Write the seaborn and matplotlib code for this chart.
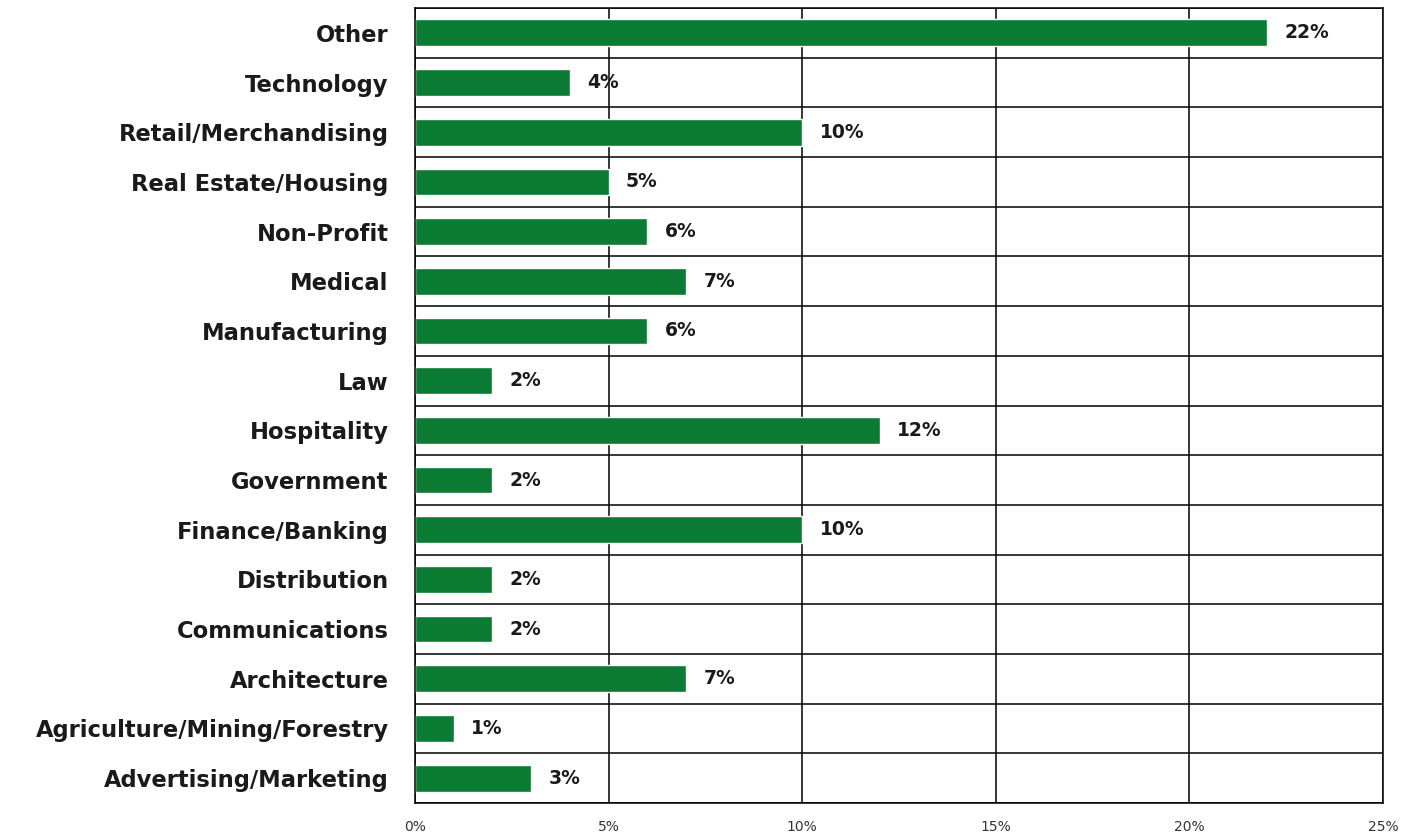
import matplotlib
matplotlib.use("Agg")
import matplotlib.pyplot as plt
from matplotlib.ticker import MultipleLocator, FixedLocator
import seaborn as sns
import pandas as pd

industries = [
    "Other", "Technology", "Retail/Merchandising", "Real Estate/Housing",
    "Non-Profit", "Medical", "Manufacturing", "Law", "Hospitality",
    "Government", "Finance/Banking", "Distribution", "Communications",
    "Architecture", "Agriculture/Mining/Forestry", "Advertising/Marketing",
]
shares = [22, 4, 10, 5, 6, 7, 6, 2, 12, 2, 10, 2, 2, 7, 1, 3]
x_ticks = [0, 5, 10, 15, 20, 25]

df = pd.DataFrame({"industry": industries, "share": shares})

sns.set_theme(style="white")
plt.rcParams["font.family"] = ["DejaVu Sans"]

fig = plt.figure(figsize=(14.03, 8.36), dpi=100)
ax = fig.add_axes([0.2958, 0.0395, 0.6899, 0.9509])

sns.barplot(data=df, y="industry", x="share", orient="h", color="#0b7a32",
            saturation=1, width=0.54, ax=ax)

ax.set_xlim(0, 25)
ax.set_ylim(len(industries) - 0.5, -0.5)
ax.xaxis.set_major_locator(FixedLocator(x_ticks))
ax.set_xticklabels([f"{t}%" for t in x_ticks], fontsize=10, color="#333333")
ax.yaxis.set_minor_locator(MultipleLocator(1, offset=0.5))
ax.grid(True, axis="x", which="major", color="black", linewidth=1.1)
ax.grid(True, axis="y", which="minor", color="black", linewidth=1.1)
ax.set_axisbelow(True)
for s in ax.spines.values():
    s.set_color("black")
    s.set_linewidth(1.1)
ax.set_xlabel("")
ax.set_ylabel("")
ax.tick_params(axis="y", which="both", length=0, pad=19, labelsize=16.3)
ax.tick_params(axis="x", length=0, pad=12)
for lbl in ax.get_yticklabels():
    lbl.set_fontweight("bold")
    lbl.set_color("#1a1a1a")

for i, v in enumerate(shares):
    ax.text(v + 0.45, i, f"{v}%", va="center", ha="left",
            fontsize=13.5, fontweight="bold", color="#1a1a1a")

fig.savefig("out.png", dpi=100, facecolor="white")
